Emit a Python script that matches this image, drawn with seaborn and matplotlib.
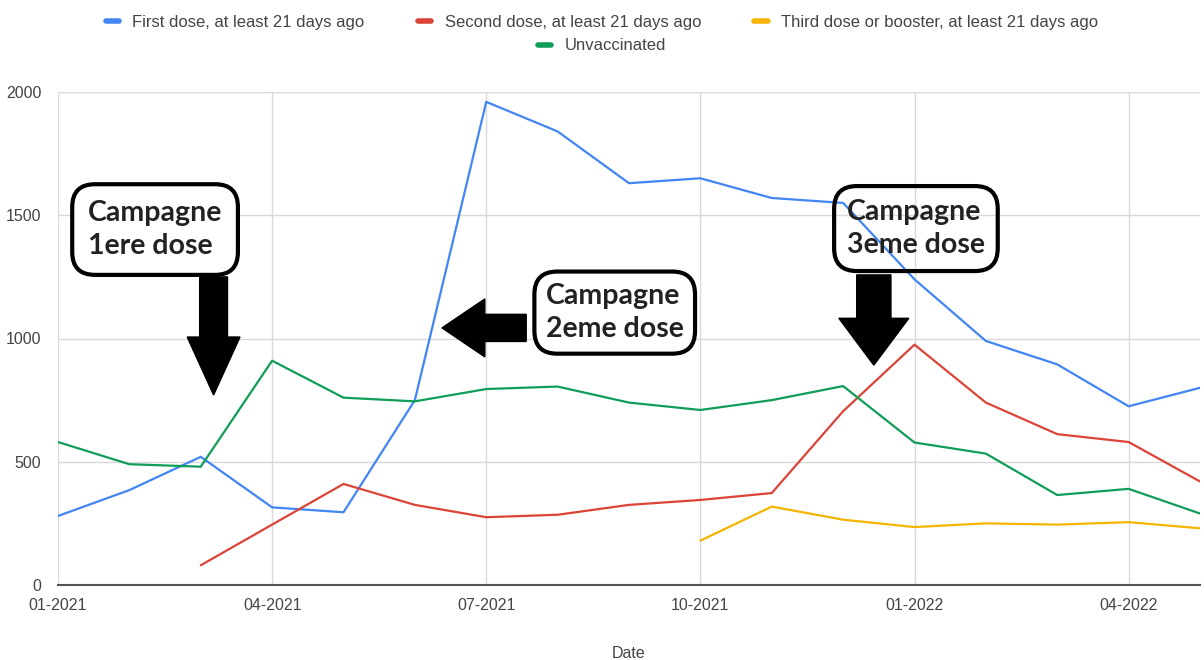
import matplotlib
matplotlib.use("Agg")
import matplotlib.pyplot as plt
import seaborn as sns
import pandas as pd
from matplotlib.patches import FancyArrow
from matplotlib.lines import Line2D

# months 01-2021 .. 05-2022
months = ["01-2021", "02-2021", "03-2021", "04-2021", "05-2021", "06-2021",
          "07-2021", "08-2021", "09-2021", "10-2021", "11-2021", "12-2021",
          "01-2022", "02-2022", "03-2022", "04-2022", "05-2022"]

first_dose = [280, 385, 520, 315, 295, 750, 1960, 1840, 1630, 1650, 1570, 1550,
              1240, 990, 895, 725, 800]
second_dose = [None, None, 80, 245, 410, 325, 275, 285, 325, 345, 373, 705,
               975, 740, 612, 580, 420]
third_dose = [None] * 9 + [180, 318, 265, 235, 250, 245, 255, 230]
unvaccinated = [580, 490, 480, 910, 760, 745, 795, 805, 740, 710, 750, 807,
                578, 533, 365, 390, 290]

series_names = ["First dose, at least 21 days ago",
                "Second dose, at least 21 days ago",
                "Third dose or booster, at least 21 days ago",
                "Unvaccinated"]
colors = ["#4285F4", "#DB4437", "#F4B400", "#0F9D58"]

tick_idx = [0, 3, 6, 9, 12, 15]

rows = []
for name, vals in zip(series_names, [first_dose, second_dose, third_dose, unvaccinated]):
    for i, v in enumerate(vals):
        if v is not None:
            rows.append({"month": i, "value": v, "series": name})
df = pd.DataFrame(rows)

sns.set_style("white")
plt.rcParams["font.family"] = ["Liberation Sans", "DejaVu Sans"]

fig = plt.figure(figsize=(12.04, 6.6), dpi=100)
ax = fig.add_axes([58 / 1204, 75 / 660, 1142 / 1204, 493 / 660])

sns.lineplot(data=df, x="month", y="value", hue="series", hue_order=series_names,
             palette=colors, linewidth=1.6, ax=ax, legend=False)

ax.set_xlim(0, 16)
ax.set_ylim(0, 2000)
ax.set_xticks(tick_idx)
ax.set_xticklabels([months[i] for i in tick_idx])
ax.set_yticks([0, 500, 1000, 1500, 2000])
ax.grid(True, color="#d9d9d9", linewidth=1)
ax.set_axisbelow(True)
for s in ["top", "right", "left"]:
    ax.spines[s].set_visible(False)
ax.spines["bottom"].set_color("#555555")
ax.spines["bottom"].set_linewidth(1.5)
ax.tick_params(axis="both", length=0, labelsize=11.5, colors="#444444")
ax.tick_params(axis="y", pad=12)
ax.tick_params(axis="x", pad=9)
ax.set_xlabel("Date", fontsize=11.5, color="#444444", labelpad=24)
ax.set_ylabel("")

# legend, two rows like the original
handles = [Line2D([0], [0], color=c, lw=4) for c in colors]
leg1 = fig.legend(handles[:3], series_names[:3], loc="center", bbox_to_anchor=(0.5, 1 - 22 / 660),
                  ncol=3, frameon=False, fontsize=12, handlelength=0.8, columnspacing=3.2,
                  handletextpad=0.8, labelcolor="#444444")
leg2 = fig.legend(handles[3:], series_names[3:], loc="center", bbox_to_anchor=(0.5, 1 - 46 / 660),
                  ncol=1, frameon=False, fontsize=12, handlelength=0.8,
                  handletextpad=0.8, labelcolor="#444444")

# annotations
box_font = dict(fontsize=20.5, fontweight="bold", family=["Lato", "DejaVu Sans"],
                color="#222222", ha="center", va="center", multialignment="left",
                linespacing=1.35, zorder=6)

ax.text(1.36, 1442, "Campagne\n1ere dose",
        bbox=dict(boxstyle="round,pad=0.55,rounding_size=0.8", fc="white", ec="black", lw=3),
        **box_font)
ax.add_patch(FancyArrow(2.18, 1250, 0, 771 - 1250, width=0.39, head_width=0.74,
                        head_length=235, length_includes_head=True,
                        color="black", zorder=5))

ax.text(7.80, 1105, "Campagne\n2eme dose",
        bbox=dict(boxstyle="round,pad=0.4,rounding_size=0.8", fc="white", ec="black", lw=3),
        **box_font)
ax.add_patch(FancyArrow(6.56, 1043, 5.38 - 6.56, 0, width=110, head_width=235,
                        head_length=0.60, length_includes_head=True,
                        color="black", zorder=5))

ax.text(12.02, 1446, "Campagne\n3eme dose",
        bbox=dict(boxstyle="round,pad=0.45,rounding_size=0.8", fc="none", ec="black", lw=3),
        **box_font)
ax.add_patch(FancyArrow(11.43, 1258, 0, 892 - 1258, width=0.48, head_width=0.98,
                        head_length=190, length_includes_head=True,
                        color="black", zorder=5))

fig.savefig("out.png", dpi=100)
